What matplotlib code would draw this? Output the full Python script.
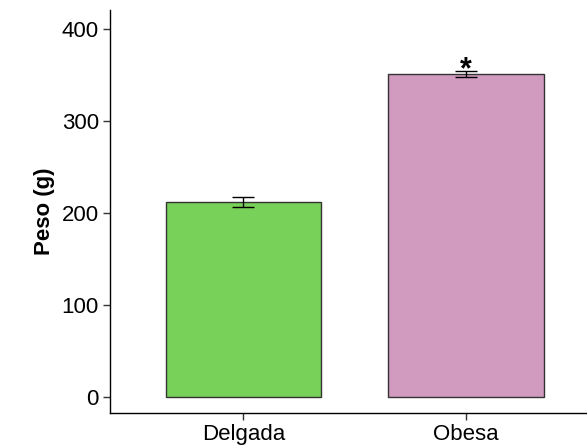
import numpy as np
import matplotlib.pyplot as plt

plt.rcParams['font.family'] = ['Liberation Sans', 'DejaVu Sans']

grupos = ['Delgada', 'Obesa']
peso_media = [212, 351]
peso_ee = [5.5, 3]
colores = ['#78D259', '#D19BBF']
signif = ['', '*']

fig = plt.figure(figsize=(5.87, 4.48), dpi=100)
ax = fig.add_axes([0.1874, 0.078, 0.8126, 0.9])

x = np.arange(1, len(grupos) + 1)
ax.bar(x, peso_media, width=0.7, color=colores, edgecolor='#333333', linewidth=1, zorder=2)
ax.errorbar(x, peso_media, yerr=peso_ee, fmt='none', ecolor='black',
            elinewidth=1, capsize=8, capthick=1, zorder=3)
for xi, m, e, s in zip(x, peso_media, peso_ee, signif):
    if s:
        ax.text(xi, m + e + 1, s, ha='center', va='center', fontsize=22,
                fontweight='bold', color='black')

ax.set_xlim(0.4, 2.545)
ax.set_ylim(-17.4, 420.6)
ax.set_yticks([0, 100, 200, 300, 400])
ax.set_xticks(x)
ax.set_xticklabels(grupos)
ax.set_ylabel('Peso (g)', fontsize=16, fontweight='bold', labelpad=5)

for side in ['top', 'right']:
    ax.spines[side].set_visible(False)
for side in ['left', 'bottom']:
    ax.spines[side].set_color('black')
    ax.spines[side].set_linewidth(1)
ax.tick_params(axis='both', length=5, width=1, color='#333333',
               labelsize=16, labelcolor='black')
ax.tick_params(axis='x', pad=3)
ax.tick_params(axis='y', pad=3)

fig.savefig('out.png', dpi=100)
